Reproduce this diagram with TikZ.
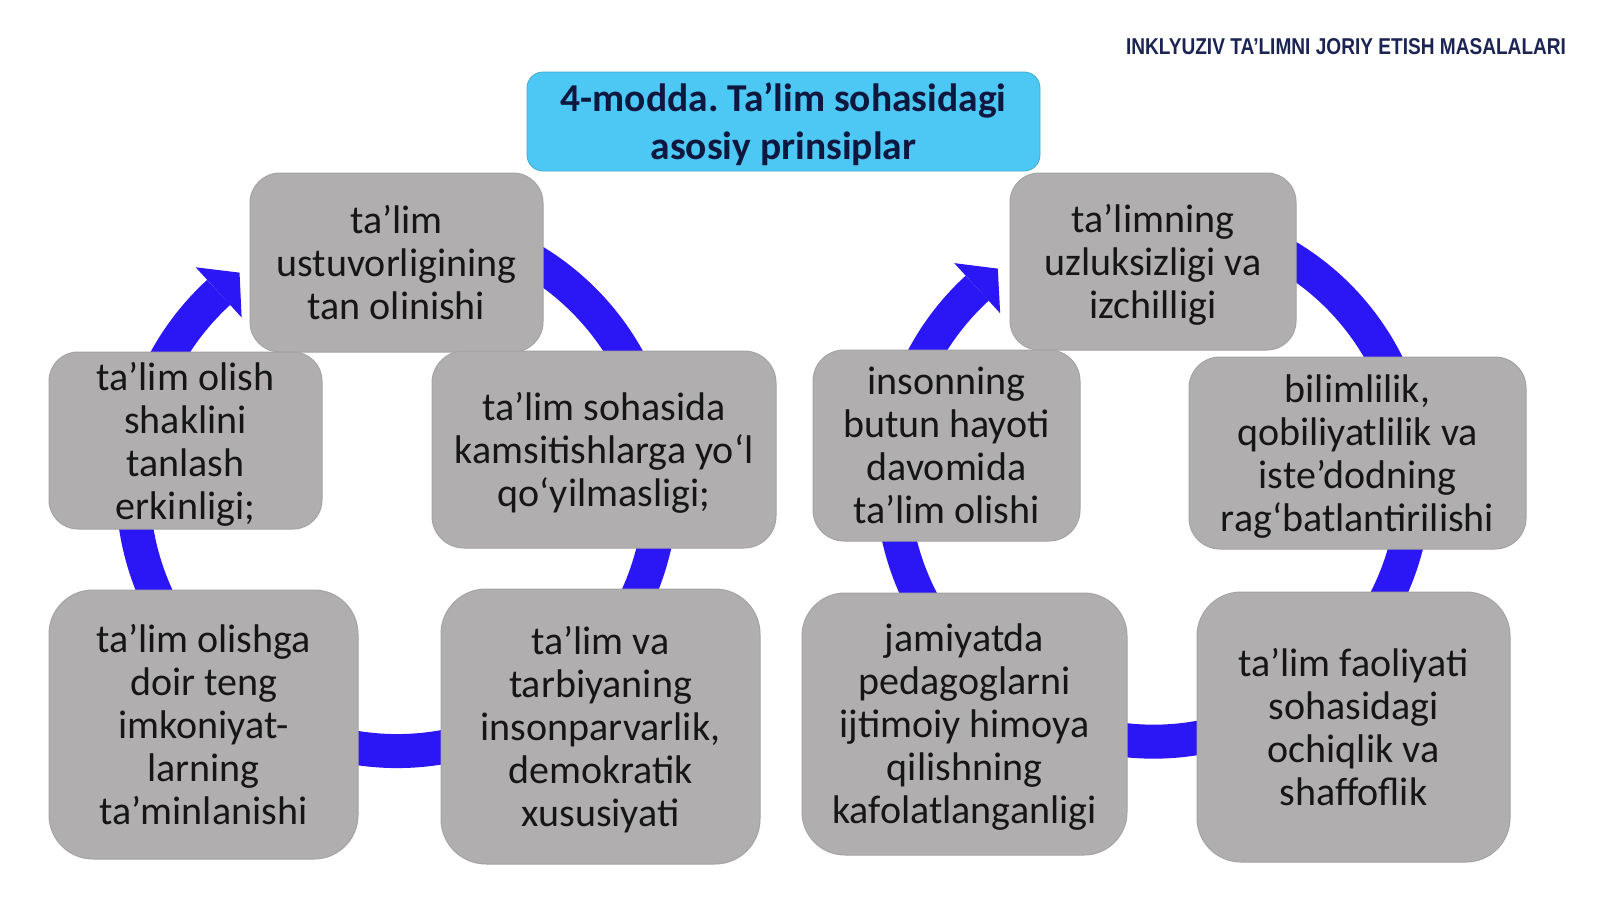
\documentclass[tikz,border=0pt]{standalone}
\usepackage{fontspec}
\setmainfont{Carlito}
\newfontfamily\hdrfont{Liberation Sans}
\usetikzlibrary{calc}
\definecolor{ringblue}{RGB}{43,22,245}
\definecolor{boxgray}{RGB}{176,174,174}
\definecolor{boxedge}{RGB}{165,163,163}
\definecolor{titlecyan}{RGB}{77,200,245}
\definecolor{navy}{RGB}{14,24,62}
\definecolor{hdrnavy}{RGB}{28,36,84}
\definecolor{txt}{RGB}{22,22,22}
\frenchspacing
\begin{document}
\begin{tikzpicture}[x=1pt,y=1pt,
  ring/.style={draw=ringblue,line width=34pt},
  head/.style={fill=ringblue},
  gbox/.style={draw=boxedge,line width=1pt,fill=boxgray,align=center,text=txt,
    inner sep=0pt,text depth=0pt,font=\fontsize{40}{43}\selectfont},
  tbox/.style={fill=titlecyan,draw=titlecyan!85!black,line width=0.8pt,align=center,text=navy,
    inner sep=0pt,text depth=0pt,rounded corners=16pt,font=\bfseries\fontsize{39.5}{48}\selectfont},
  ]
\useasboundingbox (0,0) rectangle (1600,-899);
\fill[white] (0,0) rectangle (1600,-899);

% ring centres
\coordinate (cL) at (397,-487);
\coordinate (cR) at (1153.5,-480.6);

% left ring
\draw[ring] (cL) ++(75:264) arc[start angle=75,end angle=-227.5,radius=264];
\fill[head,shift={(cL)}] (132.5:298) -- (126.3:266) -- (132.5:230) -- cycle;

% right ring
\draw[ring] (cR) ++(75:261) arc[start angle=75,end angle=-227.5,radius=261];
\fill[head,shift={(cR)}] (132.5:295) -- (126.3:263) -- (132.5:227) -- cycle;

% left cycle boxes
\node[gbox,minimum width=293pt,minimum height=179pt,rounded corners=30pt] (l1) at (396.5,-262.5)
  {ta’lim\\ustuvorligining\\tan olinishi};
\node[gbox,minimum width=273pt,minimum height=177pt,rounded corners=29pt] (l2) at (185.5,-440.5)
  {ta’lim olish\\shaklini\\tanlash\\erkinligi;};
\node[gbox,minimum width=344pt,minimum height=197pt,rounded corners=32pt] (l3) at (604,-449.5)
  {ta’lim sohasida\\kamsitishlarga yo‘l\\qo‘yilmasligi;};
\node[gbox,minimum width=309pt,minimum height=269pt,rounded corners=44pt] (l4) at (203.5,-724.5)
  {ta’lim olishga\\doir teng\\imkoniyat-\\larning\\ta’minlanishi};
\node[gbox,minimum width=319pt,minimum height=275pt,rounded corners=45pt] (l5) at (600.5,-726.5)
  {ta’lim va\\tarbiyaning\\insonparvarlik,\\demokratik\\xususiyati};

% right cycle boxes
\node[gbox,minimum width=286pt,minimum height=177pt,rounded corners=29pt] (r1) at (1153,-261.5)
  {ta’limning\\uzluksizligi va\\izchilligi};
\node[gbox,minimum width=267pt,minimum height=191pt,rounded corners=31pt] (r2) at (946.5,-445.5)
  {insonning\\butun hayoti\\davomida\\ta’lim olishi};
\node[gbox,minimum width=337pt,minimum height=192pt,rounded corners=31pt] (r3) at (1357.5,-453)
  {bilimlilik,\\qobiliyatlilik va\\iste’dodning\\rag‘batlantirilishi};
\node[gbox,minimum width=325pt,minimum height=262pt,rounded corners=43pt] (r4) at (964.5,-724)
  {jamiyatda\\pedagoglarni\\ijtimoiy himoya\\qilishning\\kafolatlanganligi};
\node[gbox,minimum width=313pt,minimum height=270pt,rounded corners=44pt] (r5) at (1353.5,-727)
  {ta’lim faoliyati\\sohasidagi\\ochiqlik va\\shaffoflik};

% title
\node[tbox,minimum width=513pt,minimum height=99pt] (title) at (783.5,-121.5)
  {4-modda. Ta’lim sohasidagi\\asosiy prinsiplar};

% header
\node[inner sep=0pt,text=hdrnavy] (hdr) at (1346,-47)
  {\resizebox{440pt}{16pt}{\hdrfont\bfseries INKLYUZIV TA’LIMNI JORIY ETISH MASALALARI}};
\end{tikzpicture}
\end{document}
